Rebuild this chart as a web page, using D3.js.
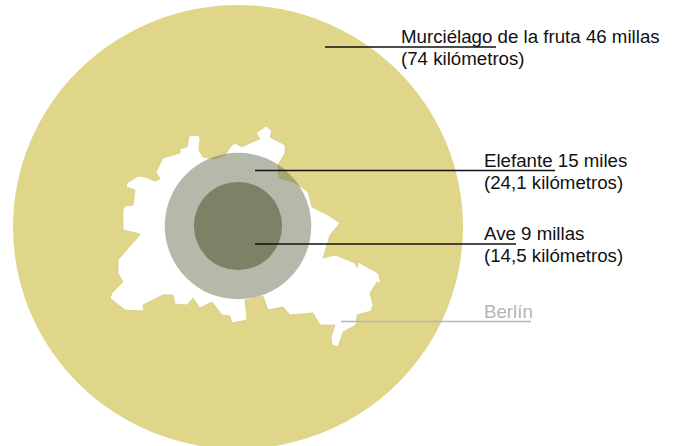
<!DOCTYPE html>
<html>
<head>
	<meta charset="utf-8" />
	<style>
		body {
			margin: 0;
			background: #fff;
			overflow: hidden;
		}

		text {
			font: 18.7px 'Liberation Sans', sans-serif;
			fill: #111;
		}
	</style>
</head>
<body>
	<div id="chart-area"></div>

	<script src="https://cdnjs.cloudflare.com/ajax/libs/d3/7.8.5/d3.min.js"></script>
	<script>
		// diameters of the foraging ranges, in km
		var rangeNames = ['Murciélago', 'Elefante', 'Ave'];
		var rangeKm = [74, 24.1, 14.5];

		var labelLines = [
			['Murciélago de la fruta 46 millas', '(74 kilómetros)'],
			['Elefante 15 miles', '(24,1 kilómetros)'],
			['Ave 9 millas', '(14,5 kilómetros)'],
			['Berlín'],
		];

		// Berlin boundary, [km east, km north] of the centre of the circles
		var berlinOutline = [
			[-18.92, -0.66], [-18.92, 2.63], [-18.59, 3.29], [-17.27, 3.45], [-16.94, 5.92],
			[-18.42, 6.42], [-18.26, 7.07], [-16.45, 8.23], [-15.3, 8.06], [-13.65, 7.4],
			[-12.83, 7.73], [-13.49, 8.88], [-12.34, 11.19], [-9.54, 12.01], [-9.54, 12.67],
			[-8.39, 13], [-8.06, 14.81], [-6.42, 14.97], [-6.25, 14.31], [-6.42, 12.5],
			[-5.76, 11.35], [-3.78, 11.02], [-2.14, 11.68], [-0.99, 13.32], [-0.49, 13.65],
			[0.66, 13], [1.97, 13.65], [3.62, 14.31], [2.96, 15.3], [4.61, 16.45],
			[5.59, 15.63], [5.26, 14.64], [7.73, 13.32], [7.73, 12.01], [6.58, 10.03],
			[6.74, 7.9], [9.05, 7.24], [10.2, 6.58], [11.52, 5.59], [12.17, 3.13],
			[14.81, 1.81], [16.78, 0.49], [15.13, -1.48], [14.81, -2.63], [13.98, -5.26],
			[15.96, -4.77], [19.25, -6.09], [19.58, -6.91], [19.74, -5.92], [23.03, -7.73],
			[23.52, -9.38], [22.87, -9.21], [21.71, -11.02], [22.21, -13], [21.88, -13.98],
			[19.58, -14.64], [19.41, -16.29], [17.27, -17.44], [16.45, -19.9], [15.46, -19.58],
			[15.3, -18.26], [15.96, -16.29], [13.49, -16.29], [12.34, -14.31], [8.55, -14.64],
			[7.4, -13.32], [4.94, -13.82], [4.11, -11.52], [1.15, -12.17], [1.48, -15.46],
			[-0.99, -15.96], [-1.32, -14.81], [-2.63, -14.64], [-4.28, -12.5], [-6.25, -13.49],
			[-7.4, -11.84], [-8.39, -13], [-10.36, -12.83], [-10.69, -11.35], [-12.34, -11.35],
			[-15.63, -13], [-15.46, -13.98], [-18.59, -13.82], [-21.06, -11.84], [-20.73, -11.02],
			[-18.92, -9.21], [-19.74, -7.73], [-19.74, -5.59], [-16.45, -1.81], [-16.12, -1.32],
		];

		var width = 676, height = 446;
		var cx = 238, cy = 226;

		var svg = d3.select('#chart-area')
			.append('svg')
			.attr('width', width)
			.attr('height', height)
			.style('display', 'block');

		// soft edge on the outline, the original is a slightly blurry bitmap
		svg.append('defs')
			.append('filter')
			.attr('id', 'soft')
			.append('feGaussianBlur')
			.attr('stdDeviation', 0.5);

		var x = d3.scaleLinear().domain([-37, 37]).range([cx - 225, cx + 225]);
		var y = d3.scaleLinear().domain([-37, 37]).range([cy + 225, cy - 225]);
		var radius = d3.scaleLinear().domain([0, 37]).range([0, 225]);

		var line = d3.line()
			.x(d => x(d[0]))
			.y(d => y(d[1]))
			.curve(d3.curveLinearClosed);

		var rangeFill = ['#e0d68a', '#6e7355', '#7d8165'];
		var rangeOpacity = [1, 0.5, 1];

		// big range is a touch squashed in the original
		svg.append('ellipse')
			.attr('cx', x(0))
			.attr('cy', y(0) + 1)
			.attr('rx', radius(rangeKm[0] / 2))
			.attr('ry', radius(rangeKm[0] / 2) - 3)
			.attr('fill', rangeFill[0]);

		svg.append('path')
			.attr('d', line(berlinOutline))
			.attr('fill', '#fff')
			.attr('stroke', '#d6cc85')
			.attr('stroke-width', 0.8)
			.attr('filter', 'url(#soft)');

		svg.selectAll('.range')
			.data(rangeKm.slice(1))
			.join('circle')
			.attr('class', 'range')
			.attr('cx', x(0))
			.attr('cy', y(0))
			.attr('r', d => radius(d / 2))
			.attr('fill', (d, i) => rangeFill[i + 1])
			.attr('opacity', (d, i) => rangeOpacity[i + 1]);

		// leader lines and text blocks, same order as labelLines
		var leaders = [
			{ x1: 325, x2: 496, y: 47, tx: 401, ty: 43, color: '#111' },
			{ x1: 255, x2: 555, y: 170.5, tx: 484, ty: 167, color: '#111' },
			{ x1: 255, x2: 516, y: 244, tx: 484, ty: 240, color: '#111' },
			{ x1: 341, x2: 531, y: 321.5, tx: 484, ty: 318, color: '#b5b5b5' },
		];

		svg.selectAll('.leader')
			.data(leaders)
			.join('line')
			.attr('class', 'leader')
			.attr('x1', d => d.x1)
			.attr('x2', d => d.x2)
			.attr('y1', d => d.y)
			.attr('y2', d => d.y)
			.attr('stroke', d => d.color)
			.attr('stroke-width', 1.5);

		svg.selectAll('.label')
			.data(leaders)
			.join('text')
			.attr('class', 'label')
			.attr('x', d => d.tx)
			.attr('y', d => d.ty)
			.style('fill', d => (d.color === '#111' ? '#111' : '#b5b5b5'))
			.selectAll('tspan')
			.data((d, i) => labelLines[i].map(t => ({ t: t, tx: d.tx })))
			.join('tspan')
			.attr('x', d => d.tx)
			.attr('dy', (d, i) => (i ? 22 : 0))
			.text(d => d.t);
	</script>
</body>
</html>
